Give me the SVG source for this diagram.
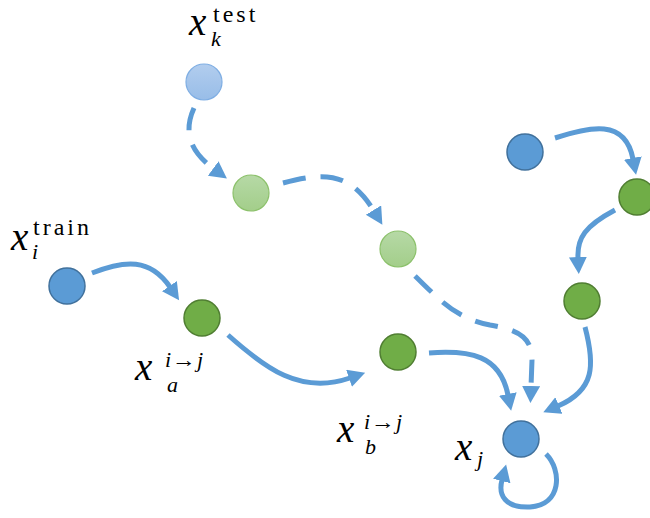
<svg xmlns="http://www.w3.org/2000/svg" width="650" height="518" viewBox="0 0 650 518">
<style>
.c{fill:none;stroke:#5B9BD5;stroke-width:5;marker-end:url(#ah)}
.d{stroke-dasharray:23 15}
.blue{fill:#5B9BD5;stroke:#41719C;stroke-width:1.5}
.green{fill:#70AD47;stroke:#507E32;stroke-width:1.5}
.lgreen{fill:url(#gg);stroke:#8CC16B;stroke-width:1.2}
.lblue{fill:url(#gb);stroke:#7FAEE3;stroke-width:1.2}
.m{font-family:'Liberation Serif','DejaVu Serif',serif;font-style:italic;fill:#000}
.r{font-family:'Liberation Serif','DejaVu Serif',serif;fill:#000}
.x{font-size:39px}
.s{font-size:22px}
.sup{font-size:24px;letter-spacing:3px}
</style>
<defs>
<marker id="ah" markerUnits="userSpaceOnUse" markerWidth="22" markerHeight="22" refX="1" refY="9" orient="auto"><path d="M0,0 L17,9 L0,18 z" fill="#5B9BD5"/></marker>
<linearGradient id="gg" x1="0" y1="0" x2="0" y2="1"><stop offset="0" stop-color="#B6D9A6"/><stop offset="1" stop-color="#A3CE8A"/></linearGradient>
<linearGradient id="gb" x1="0" y1="0" x2="0" y2="1"><stop offset="0" stop-color="#B2CDEE"/><stop offset="1" stop-color="#98BDE8"/></linearGradient>
</defs>
<g id="connectors">
<path class="c d" d="M194 108 C184 130,188 150,214 169"/>
<path class="c d" d="M283 183 C325 172,350 172,374 211"/>
<path class="c d" d="M415 276 C440 300,455 318,490 325 C520 330,532 338,532 360 L531 387"/>
<path class="c" d="M92 273 C125 260,150 258,170 287"/>
<path class="c" d="M228 335 C265 368,300 395,350 378"/>
<path class="c" d="M429 353 C470 350,500 355,508 395"/>
<path class="c" d="M555 138 C590 127,625 118,633 159"/>
<path class="c" d="M615 210 C585 226,577 238,578 258"/>
<path class="c" d="M585 327 C595 365,595 390,558 406"/>
<path class="c" d="M546 454 C562 470,562 505,530 507 C505 508,498 495,502 480"/>
</g>
<g id="n_test"><circle class="lblue" cx="204" cy="82" r="18"/></g>
<g id="n_lg1"><circle class="lgreen" cx="251" cy="193" r="18"/></g>
<g id="n_lg2"><circle class="lgreen" cx="398" cy="249" r="18"/></g>
<g id="n_train"><circle class="blue" cx="67" cy="286" r="18"/></g>
<g id="n_a"><circle class="green" cx="202" cy="318" r="18"/></g>
<g id="n_b"><circle class="green" cx="398" cy="352" r="18"/></g>
<g id="n_xj"><circle class="blue" cx="521" cy="439" r="18"/></g>
<g id="n_r1"><circle class="blue" cx="525" cy="152" r="18"/></g>
<g id="n_r2"><circle class="green" cx="637" cy="197" r="18"/></g>
<g id="n_r3"><circle class="green" cx="582" cy="301" r="18"/></g>
<g id="labels">
<text class="m x" x="189" y="35">x</text>
<text class="r sup" x="213" y="22">test</text>
<text class="m s" x="211" y="46">k</text>
<text class="m x" x="11" y="250">x</text>
<text class="r sup" x="33" y="235">train</text>
<text class="m s" x="32" y="259">i</text>
<text class="m x" x="135" y="380">x</text>
<text class="m s" x="165" y="367">i</text>
<text class="r s" x="172" y="367" textLength="24" lengthAdjust="spacingAndGlyphs">→</text>
<text class="m s" x="197" y="367">j</text>
<text class="m s" x="167" y="392">a</text>
<text class="m x" x="337" y="442">x</text>
<text class="m s" x="364" y="429">i</text>
<text class="r s" x="371" y="429" textLength="24" lengthAdjust="spacingAndGlyphs">→</text>
<text class="m s" x="396" y="429">j</text>
<text class="m s" x="365" y="454">b</text>
<text class="m x" x="455" y="460">x</text>
<text class="m s" x="477" y="466">j</text>
</g>
</svg>
